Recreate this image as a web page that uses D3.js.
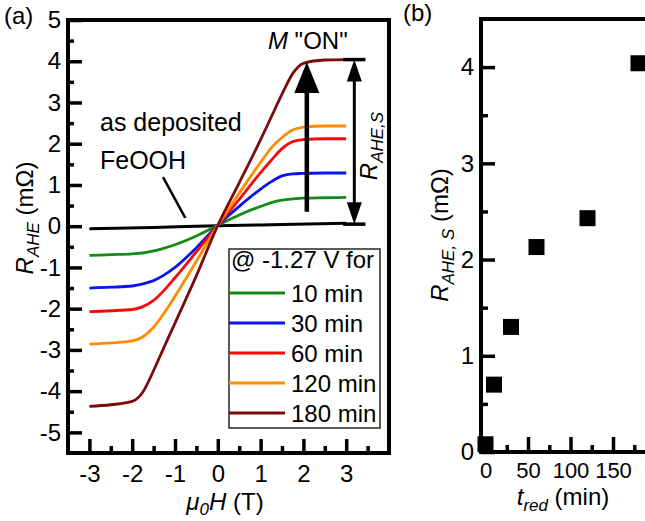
<!DOCTYPE html>
<html><head><meta charset="utf-8">
<script src="https://cdn.jsdelivr.net/npm/d3@7"></script>
<style>
html,body{margin:0;padding:0;background:#fff;}
svg text{font-family:"Liberation Sans",Arial,Helvetica,sans-serif;fill:#000;}
</style></head>
<body>
<svg id="chart" width="645" height="521"></svg>
<script>
// ---------- data ----------
const fieldH = [-3, -2.5, -2, -1.75, -1.5, -1.25, -1, -0.5, 0, 0.5, 1, 1.25, 1.5, 1.75, 2, 2.5, 3];
const r10  = [-0.71,-0.69,-0.67,-0.65,-0.60,-0.53,-0.45,-0.24,0.02,0.27,0.48,0.57,0.63,0.66,0.68,0.69,0.70];
const r30  = [-1.50,-1.48,-1.45,-1.40,-1.32,-1.18,-1.00,-0.52,0.02,0.48,0.90,1.08,1.22,1.27,1.28,1.29,1.29];
const r60  = [-2.07,-2.05,-2.02,-1.95,-1.80,-1.55,-1.25,-0.62,0.02,0.65,1.30,1.60,1.88,2.05,2.10,2.12,2.12];
const r120 = [-2.86,-2.83,-2.78,-2.68,-2.45,-2.10,-1.70,-0.85,0.02,0.80,1.55,1.90,2.15,2.33,2.40,2.43,2.43];
const r180 = [-4.37,-4.33,-4.25,-4.02,-3.50,-2.92,-2.35,-1.20,0.02,1.05,2.10,2.65,3.20,3.70,3.95,4.03,4.04];
const depositedH = [-3, -1.5, 0, 1.5, 3];
const depositedR = [-0.06, -0.03, 0.01, 0.04, 0.07];
const seriesLabels = ["10 min", "30 min", "60 min", "120 min", "180 min"];
const seriesColors = ["#158a15", "#0a14f0", "#f50a0a", "#ff8c00", "#7d0a0a"];
const legendTitle = "@ -1.27 V for";

const xTicksA = [-3, -2, -1, 0, 1, 2, 3];
const yTicksA = [-5, -4, -3, -2, -1, 0, 1, 2, 3, 4, 5];

const tRed = [0, 10, 30, 60, 120, 180];
const rAheS = [0.08, 0.70, 1.30, 2.13, 2.43, 4.04];
const xTicksB = [0, 50, 100, 150];
const yTicksB = [0, 1, 2, 3, 4];

// annotation anchors (data coordinates)
const onArrow = {h: 2.08, from: 0.35, to: 3.98};
const satArrow = {h: 3.19, from: 0.05, to: 4.04, barFrom: 2.93, barTo: 3.45};
const feoohPointer = {h1: -1.28, r1: 1.19, h2: -0.76, r2: 0.20};

// ---------- setup ----------
const svg = d3.select("#chart");
const FS = 24;

const xA = d3.scaleLinear().domain([-3.5, 4]).range([68, 389]);
const yA = d3.scaleLinear().domain([-5.5, 5]).range([453, 20]);
const xB = d3.scaleLinear().domain([-5.3, 200]).range([481, 655.5]);
const yB = d3.scaleLinear().domain([0, 4.5]).range([452, 19]);

function styleAxis(g){
  g.select(".domain").remove();
  g.selectAll(".tick line").attr("stroke","#000").attr("stroke-width",3.5);
  g.selectAll(".tick text").attr("font-size",FS).attr("fill","#000")
   .style("font-family",'"Liberation Sans",Arial,sans-serif');
}
const fmt = d => String(d);

// ---------- panel (a) ----------
const gA = svg.append("g");
gA.append("g").attr("transform",`translate(0,${yA(-5.5)})`)
  .call(d3.axisBottom(xA).tickValues(d3.range(-2.5,4,1)).tickSize(-7).tickFormat(""))
  .call(styleAxis);
gA.append("g").attr("transform",`translate(${xA(-3.5)},0)`)
  .call(d3.axisLeft(yA).tickValues(d3.range(-4.5,5,1)).tickSize(-6).tickFormat(""))
  .call(styleAxis);
gA.append("g").attr("transform",`translate(0,${yA(-5.5)})`)
  .call(d3.axisBottom(xA).tickValues(xTicksA).tickSize(-14).tickPadding(12).tickFormat(fmt))
  .call(styleAxis);
gA.append("g").attr("transform",`translate(${xA(-3.5)},0)`)
  .call(d3.axisLeft(yA).tickValues(yTicksA).tickSize(-14).tickPadding(7).tickFormat(fmt))
  .call(styleAxis);

const lineA = d3.line().x(d=>xA(d[0])).y(d=>yA(d[1])).curve(d3.curveMonotoneX);

gA.append("path").datum(depositedH.map((h,i)=>[h,depositedR[i]]))
  .attr("d",lineA).attr("fill","none").attr("stroke","#000").attr("stroke-width",3);

const allSeries = [r10, r30, r60, r120, r180];
allSeries.forEach((s,k)=>{
  gA.append("path").datum(fieldH.map((h,i)=>[h,s[i]]))
    .attr("d",lineA).attr("fill","none").attr("stroke",seriesColors[k])
    .attr("stroke-width",2.8).attr("stroke-linejoin","round");
});

gA.append("rect").attr("x",xA(-3.5)).attr("y",yA(5)).attr("width",xA(4)-xA(-3.5))
  .attr("height",yA(-5.5)-yA(5)).attr("fill","none").attr("stroke","#000").attr("stroke-width",4);

// M "ON" arrow
{
  const x = xA(onArrow.h), yTip = yA(onArrow.to), yBase = yA(onArrow.from);
  const hh = 31, hw = 12.5;
  gA.append("line").attr("x1",x).attr("x2",x).attr("y1",yBase).attr("y2",yTip+hh-2)
    .attr("stroke","#000").attr("stroke-width",4.5);
  gA.append("path").attr("d",`M${x},${yTip} L${x-hw},${yTip+hh} L${x+hw},${yTip+hh} Z`).attr("fill","#000");
  const t = gA.append("text").attr("x",x+1).attr("y",49).attr("text-anchor","middle").attr("font-size",FS);
  t.append("tspan").attr("font-style","italic").text("M");
  t.append("tspan").text(' "ON"');
}
// R_AHE,S double arrow
{
  const x = xA(satArrow.h), yT = yA(satArrow.to), yBt = yA(satArrow.from);
  const hh = 22, hw = 7.5;
  gA.append("line").attr("x1",x).attr("x2",x).attr("y1",yT+hh-2).attr("y2",yBt-hh+2)
    .attr("stroke","#000").attr("stroke-width",3);
  gA.append("path").attr("d",`M${x},${yT} L${x-hw},${yT+hh} L${x+hw},${yT+hh} Z`).attr("fill","#000");
  gA.append("path").attr("d",`M${x},${yBt} L${x-hw},${yBt-hh} L${x+hw},${yBt-hh} Z`).attr("fill","#000");
  [yT,yBt].forEach(y=>{
    gA.append("line").attr("x1",xA(satArrow.barFrom)).attr("x2",xA(satArrow.barTo))
      .attr("y1",y).attr("y2",y).attr("stroke","#000").attr("stroke-width",3.5);
  });
  const t = gA.append("text").attr("transform",`translate(377,146) rotate(-90)`)
    .attr("text-anchor","middle").attr("font-size",FS);
  t.append("tspan").attr("font-style","italic").text("R");
  t.append("tspan").attr("font-style","italic").attr("font-size",17).attr("dy",6).text("AHE,S");
}
gA.append("text").attr("x",100).attr("y",131).attr("font-size",25).text("as deposited");
gA.append("text").attr("x",100).attr("y",169).attr("font-size",25).text("FeOOH");
gA.append("line").attr("x1",xA(feoohPointer.h1)).attr("y1",yA(feoohPointer.r1))
  .attr("x2",xA(feoohPointer.h2)).attr("y2",yA(feoohPointer.r2))
  .attr("stroke","#000").attr("stroke-width",2.5);

// legend
{
  const lg = gA.append("g");
  lg.append("rect").attr("x",229).attr("y",249).attr("width",151).attr("height",179)
    .attr("fill","#fff").attr("stroke","#333").attr("stroke-width",1.6);
  lg.append("text").attr("x",231).attr("y",268).attr("font-size",FS).text(legendTitle);
  seriesLabels.forEach((lab,i)=>{
    const y = 293 + i*30;
    lg.append("line").attr("x1",229).attr("x2",285).attr("y1",y).attr("y2",y)
      .attr("stroke",seriesColors[i]).attr("stroke-width",3);
    lg.append("text").attr("x",291).attr("y",y+9).attr("font-size",FS).text(lab);
  });
}
{
  const t = svg.append("text").attr("x",225).attr("y",510).attr("text-anchor","middle").attr("font-size",FS);
  t.append("tspan").attr("font-style","italic").text("μ");
  t.append("tspan").attr("font-style","italic").attr("font-size",17).attr("dy",5).text("0");
  t.append("tspan").attr("font-style","italic").attr("dy",-5).text("H");
  t.append("tspan").text(" (T)");
  const ty = svg.append("text").attr("transform","translate(33,218) rotate(-90)")
    .attr("text-anchor","middle").attr("font-size",FS);
  ty.append("tspan").attr("font-style","italic").text("R");
  ty.append("tspan").attr("font-style","italic").attr("font-size",17).attr("dy",6).text("AHE");
  ty.append("tspan").attr("dy",-6).text(" (mΩ)");
}
svg.append("text").attr("x",4).attr("y",24).attr("font-size",FS).text("(a)");

// ---------- panel (b) ----------
const gB = svg.append("g");
gB.append("g").attr("transform",`translate(0,${yB(0)})`)
  .call(d3.axisBottom(xB).tickValues([25,75,125,175]).tickSize(-7).tickFormat(""))
  .call(styleAxis);
gB.append("g").attr("transform",`translate(${xB(-5.3)},0)`)
  .call(d3.axisLeft(yB).tickValues([0.5,1.5,2.5,3.5]).tickSize(-7).tickFormat(""))
  .call(styleAxis);
gB.append("g").attr("transform",`translate(0,${yB(0)})`)
  .call(d3.axisBottom(xB).tickValues(xTicksB).tickSize(-15).tickPadding(10).tickFormat(fmt))
  .call(styleAxis)
  .call(g=>g.selectAll(".tick text").attr("font-size",22));
gB.append("g").attr("transform",`translate(${xB(-5.3)},0)`)
  .call(d3.axisLeft(yB).tickValues(yTicksB).tickSize(-14).tickPadding(7).tickFormat(fmt))
  .call(styleAxis);

const sq = 16;
gB.selectAll("rect.pt").data(tRed.map((t,i)=>[t,rAheS[i]])).join("rect").attr("class","pt")
  .attr("x",d=>xB(d[0])-sq/2).attr("y",d=>yB(d[1])-sq/2).attr("width",sq).attr("height",sq).attr("fill","#000");

gB.append("rect").attr("x",xB(-5.3)).attr("y",yB(4.5)).attr("width",xB(200)-xB(-5.3))
  .attr("height",yB(0)-yB(4.5)).attr("fill","none").attr("stroke","#000").attr("stroke-width",4);

{
  const t = svg.append("text").attr("x",563).attr("y",505).attr("text-anchor","middle").attr("font-size",FS);
  t.append("tspan").attr("font-style","italic").text("t");
  t.append("tspan").attr("font-style","italic").attr("font-size",17).attr("dy",6).text("red");
  t.append("tspan").attr("dy",-6).text(" (min)");
  const ty = svg.append("text").attr("transform","translate(448,235) rotate(-90)")
    .attr("text-anchor","middle").attr("font-size",FS);
  ty.append("tspan").attr("font-style","italic").text("R");
  ty.append("tspan").attr("font-style","italic").attr("font-size",17).attr("dy",6).text("AHE, S");
  ty.append("tspan").attr("dy",-6).text(" (mΩ)");
}
svg.append("text").attr("x",403).attr("y",21).attr("font-size",FS).text("(b)");
</script>
</body></html>
